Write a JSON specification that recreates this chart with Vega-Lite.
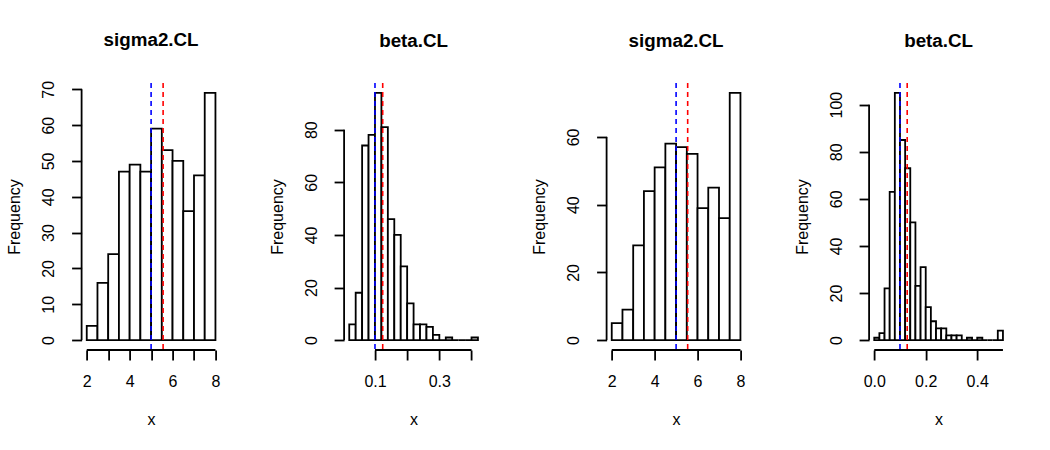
{
  "$schema": "https://vega.github.io/schema/vega-lite/v6.json",
  "background": "white",
  "padding": {"left": 6.6, "top": 30, "right": 5, "bottom": 5},
  "datasets": {
    "sig1": [
      {"lo": 2.0, "hi": 2.5, "count": 4}, {"lo": 2.5, "hi": 3.0, "count": 16},
      {"lo": 3.0, "hi": 3.5, "count": 24}, {"lo": 3.5, "hi": 4.0, "count": 47},
      {"lo": 4.0, "hi": 4.5, "count": 49}, {"lo": 4.5, "hi": 5.0, "count": 47},
      {"lo": 5.0, "hi": 5.5, "count": 59}, {"lo": 5.5, "hi": 6.0, "count": 53},
      {"lo": 6.0, "hi": 6.5, "count": 50}, {"lo": 6.5, "hi": 7.0, "count": 36},
      {"lo": 7.0, "hi": 7.5, "count": 46}, {"lo": 7.5, "hi": 8.0, "count": 69}
    ],
    "beta1": [
      {"lo": 0.02, "hi": 0.04, "count": 6}, {"lo": 0.04, "hi": 0.06, "count": 18},
      {"lo": 0.06, "hi": 0.08, "count": 74}, {"lo": 0.08, "hi": 0.10, "count": 78},
      {"lo": 0.10, "hi": 0.12, "count": 94}, {"lo": 0.12, "hi": 0.14, "count": 81},
      {"lo": 0.14, "hi": 0.16, "count": 46}, {"lo": 0.16, "hi": 0.18, "count": 40},
      {"lo": 0.18, "hi": 0.20, "count": 28}, {"lo": 0.20, "hi": 0.22, "count": 14},
      {"lo": 0.22, "hi": 0.24, "count": 6}, {"lo": 0.24, "hi": 0.26, "count": 6},
      {"lo": 0.26, "hi": 0.28, "count": 5}, {"lo": 0.28, "hi": 0.30, "count": 2},
      {"lo": 0.30, "hi": 0.32, "count": 0}, {"lo": 0.32, "hi": 0.34, "count": 1},
      {"lo": 0.34, "hi": 0.36, "count": 0}, {"lo": 0.36, "hi": 0.38, "count": 0},
      {"lo": 0.38, "hi": 0.40, "count": 0}, {"lo": 0.40, "hi": 0.42, "count": 1}
    ],
    "sig2": [
      {"lo": 2.0, "hi": 2.5, "count": 5}, {"lo": 2.5, "hi": 3.0, "count": 9},
      {"lo": 3.0, "hi": 3.5, "count": 28}, {"lo": 3.5, "hi": 4.0, "count": 44},
      {"lo": 4.0, "hi": 4.5, "count": 51}, {"lo": 4.5, "hi": 5.0, "count": 58},
      {"lo": 5.0, "hi": 5.5, "count": 57}, {"lo": 5.5, "hi": 6.0, "count": 55},
      {"lo": 6.0, "hi": 6.5, "count": 39}, {"lo": 6.5, "hi": 7.0, "count": 45},
      {"lo": 7.0, "hi": 7.5, "count": 36}, {"lo": 7.5, "hi": 8.0, "count": 73}
    ],
    "beta2": [
      {"lo": 0.00, "hi": 0.02, "count": 1}, {"lo": 0.02, "hi": 0.04, "count": 3},
      {"lo": 0.04, "hi": 0.06, "count": 22}, {"lo": 0.06, "hi": 0.08, "count": 63},
      {"lo": 0.08, "hi": 0.10, "count": 105}, {"lo": 0.10, "hi": 0.12, "count": 85},
      {"lo": 0.12, "hi": 0.14, "count": 73}, {"lo": 0.14, "hi": 0.16, "count": 50},
      {"lo": 0.16, "hi": 0.18, "count": 23}, {"lo": 0.18, "hi": 0.20, "count": 31},
      {"lo": 0.20, "hi": 0.22, "count": 14}, {"lo": 0.22, "hi": 0.24, "count": 8},
      {"lo": 0.24, "hi": 0.26, "count": 5}, {"lo": 0.26, "hi": 0.28, "count": 5},
      {"lo": 0.28, "hi": 0.30, "count": 2}, {"lo": 0.30, "hi": 0.32, "count": 2},
      {"lo": 0.32, "hi": 0.34, "count": 2}, {"lo": 0.34, "hi": 0.36, "count": 0},
      {"lo": 0.36, "hi": 0.38, "count": 1}, {"lo": 0.38, "hi": 0.40, "count": 0},
      {"lo": 0.40, "hi": 0.42, "count": 1}, {"lo": 0.42, "hi": 0.44, "count": 0},
      {"lo": 0.44, "hi": 0.46, "count": 0}, {"lo": 0.46, "hi": 0.48, "count": 0},
      {"lo": 0.48, "hi": 0.50, "count": 4}
    ],
    "ref_sig1": [{"value": 5.0, "kind": "true"}, {"value": 5.56, "kind": "mean"}],
    "ref_beta1": [{"value": 0.1, "kind": "true"}, {"value": 0.124, "kind": "mean"}],
    "ref_sig2": [{"value": 5.0, "kind": "true"}, {"value": 5.54, "kind": "mean"}],
    "ref_beta2": [{"value": 0.1, "kind": "true"}, {"value": 0.128, "kind": "mean"}],
    "one": [{}]
  },
  "spacing": 123.5,
  "bounds": "flush",
  "hconcat": [
    {
      "title": {"text": "sigma2.CL"},
      "width": 139,
      "height": 267,
      "layer": [
        {
          "data": {"name": "sig1"},
          "mark": {"type": "rect", "fill": "white", "stroke": "black", "strokeWidth": 1.8},
          "encoding": {
            "x": {"field": "lo", "type": "quantitative", "title": "x",
                  "scale": {"domain": [1.76, 8.24], "nice": false, "zero": false},
                  "axis": {"values": [2, 3, 4, 5, 6, 7, 8], "labelOverlap": false, "labelExpr": "datum.value % 2 == 0 ? datum.label : ''"}},
            "x2": {"field": "hi"},
            "y": {"field": "count", "type": "quantitative", "title": "Frequency",
                  "scale": {"domain": [-2.76, 71.76], "nice": false, "zero": false},
                  "axis": {"values": [0, 10, 20, 30, 40, 50, 60, 70], "labelOverlap": false}},
            "y2": {"datum": 0}
          }
        },
        {"data": {"name": "one"},
         "mark": {"type": "rule", "color": "black", "strokeWidth": 1.8},
         "encoding": {
           "x": {"datum": 2, "title": "x", "axis": {"values": [2, 3, 4, 5, 6, 7, 8], "labelOverlap": false, "labelExpr": "datum.value % 2 == 0 ? datum.label : ''"}},
           "x2": {"datum": 8},
           "y": {"datum": -2.76, "title": "Frequency", "axis": {"values": [0, 10, 20, 30, 40, 50, 60, 70], "labelOverlap": false}}}},
        {"data": {"name": "one"},
         "mark": {"type": "rule", "color": "black", "strokeWidth": 1.8},
         "encoding": {
           "x": {"datum": 1.76, "title": "x", "axis": {"values": [2, 3, 4, 5, 6, 7, 8], "labelOverlap": false, "labelExpr": "datum.value % 2 == 0 ? datum.label : ''"}},
           "y": {"datum": 0, "title": "Frequency", "axis": {"values": [0, 10, 20, 30, 40, 50, 60, 70], "labelOverlap": false}},
           "y2": {"datum": 70}}},
        {
          "data": {"name": "ref_sig1"},
          "mark": {"type": "rule", "strokeWidth": 1.6, "strokeDash": [5, 4]},
          "encoding": {
            "x": {"field": "value", "type": "quantitative", "title": "x", "axis": {"values": [2, 3, 4, 5, 6, 7, 8], "labelOverlap": false, "labelExpr": "datum.value % 2 == 0 ? datum.label : ''"}},
            "color": {"field": "kind", "type": "nominal", "scale": {"domain": ["true", "mean"], "range": ["#0000ff", "#ff0000"]}, "legend": null}
          }
        }
      ]
    },
    {
      "title": {"text": "beta.CL"},
      "width": 139,
      "height": 267,
      "layer": [
        {
          "data": {"name": "beta1"},
          "mark": {"type": "rect", "fill": "white", "stroke": "black", "strokeWidth": 1.8},
          "encoding": {
            "x": {"field": "lo", "type": "quantitative", "title": "x",
                  "scale": {"domain": [0.004, 0.436], "nice": false, "zero": false},
                  "axis": {"values": [0.1, 0.2, 0.3, 0.4], "labelOverlap": false, "labelExpr": "round(datum.value * 10) % 2 == 1 ? format(datum.value, '.1f') : ''"}},
            "x2": {"field": "hi"},
            "y": {"field": "count", "type": "quantitative", "title": "Frequency",
                  "scale": {"domain": [-3.76, 97.76], "nice": false, "zero": false},
                  "axis": {"values": [0, 20, 40, 60, 80], "labelOverlap": false}},
            "y2": {"datum": 0}
          }
        },
        {"data": {"name": "one"},
         "mark": {"type": "rule", "color": "black", "strokeWidth": 1.8},
         "encoding": {"x": {"datum": 0.1, "title": "x"}, "x2": {"datum": 0.4}, "y": {"datum": -3.76, "title": "Frequency"}}},
        {"data": {"name": "one"},
         "mark": {"type": "rule", "color": "black", "strokeWidth": 1.8},
         "encoding": {"x": {"datum": 0.004, "title": "x"}, "y": {"datum": 0, "title": "Frequency"}, "y2": {"datum": 80}}},
        {
          "data": {"name": "ref_beta1"},
          "mark": {"type": "rule", "strokeWidth": 1.6, "strokeDash": [5, 4]},
          "encoding": {
            "x": {"field": "value", "type": "quantitative", "title": "x"},
            "color": {"field": "kind", "type": "nominal", "scale": {"domain": ["true", "mean"], "range": ["#0000ff", "#ff0000"]}, "legend": null}
          }
        }
      ]
    },
    {
      "title": {"text": "sigma2.CL"},
      "width": 139,
      "height": 267,
      "layer": [
        {
          "data": {"name": "sig2"},
          "mark": {"type": "rect", "fill": "white", "stroke": "black", "strokeWidth": 1.8},
          "encoding": {
            "x": {"field": "lo", "type": "quantitative", "title": "x",
                  "scale": {"domain": [1.76, 8.24], "nice": false, "zero": false},
                  "axis": {"values": [2, 3, 4, 5, 6, 7, 8], "labelOverlap": false, "labelExpr": "datum.value % 2 == 0 ? datum.label : ''"}},
            "x2": {"field": "hi"},
            "y": {"field": "count", "type": "quantitative", "title": "Frequency",
                  "scale": {"domain": [-2.92, 75.92], "nice": false, "zero": false},
                  "axis": {"values": [0, 20, 40, 60], "labelOverlap": false}},
            "y2": {"datum": 0}
          }
        },
        {"data": {"name": "one"},
         "mark": {"type": "rule", "color": "black", "strokeWidth": 1.8},
         "encoding": {"x": {"datum": 2, "title": "x"}, "x2": {"datum": 8}, "y": {"datum": -2.92, "title": "Frequency"}}},
        {"data": {"name": "one"},
         "mark": {"type": "rule", "color": "black", "strokeWidth": 1.8},
         "encoding": {"x": {"datum": 1.76, "title": "x"}, "y": {"datum": 0, "title": "Frequency"}, "y2": {"datum": 60}}},
        {
          "data": {"name": "ref_sig2"},
          "mark": {"type": "rule", "strokeWidth": 1.6, "strokeDash": [5, 4]},
          "encoding": {
            "x": {"field": "value", "type": "quantitative", "title": "x"},
            "color": {"field": "kind", "type": "nominal", "scale": {"domain": ["true", "mean"], "range": ["#0000ff", "#ff0000"]}, "legend": null}
          }
        }
      ]
    },
    {
      "title": {"text": "beta.CL"},
      "width": 139,
      "height": 267,
      "layer": [
        {
          "data": {"name": "beta2"},
          "mark": {"type": "rect", "fill": "white", "stroke": "black", "strokeWidth": 1.8},
          "encoding": {
            "x": {"field": "lo", "type": "quantitative", "title": "x",
                  "scale": {"domain": [-0.02, 0.52], "nice": false, "zero": false},
                  "axis": {"values": [0, 0.1, 0.2, 0.3, 0.4, 0.5], "labelOverlap": false, "labelExpr": "round(datum.value * 10) % 2 == 0 ? format(datum.value, '.1f') : ''"}},
            "x2": {"field": "hi"},
            "y": {"field": "count", "type": "quantitative", "title": "Frequency",
                  "scale": {"domain": [-4.2, 109.2], "nice": false, "zero": false},
                  "axis": {"values": [0, 20, 40, 60, 80, 100], "labelOverlap": false}},
            "y2": {"datum": 0}
          }
        },
        {"data": {"name": "one"},
         "mark": {"type": "rule", "color": "black", "strokeWidth": 1.8},
         "encoding": {"x": {"datum": 0, "title": "x"}, "x2": {"datum": 0.5}, "y": {"datum": -4.2, "title": "Frequency"}}},
        {"data": {"name": "one"},
         "mark": {"type": "rule", "color": "black", "strokeWidth": 1.8},
         "encoding": {"x": {"datum": -0.02, "title": "x"}, "y": {"datum": 0, "title": "Frequency"}, "y2": {"datum": 100}}},
        {
          "data": {"name": "ref_beta2"},
          "mark": {"type": "rule", "strokeWidth": 1.6, "strokeDash": [5, 4]},
          "encoding": {
            "x": {"field": "value", "type": "quantitative", "title": "x"},
            "color": {"field": "kind", "type": "nominal", "scale": {"domain": ["true", "mean"], "range": ["#0000ff", "#ff0000"]}, "legend": null}
          }
        }
      ]
    }
  ],
  "config": {
    "font": "Liberation Sans",
    "view": {"stroke": null},
    "title": {"font": "Liberation Sans", "fontSize": 18.8, "fontWeight": "bold", "color": "black", "anchor": "middle", "frame": "group", "baseline": "alphabetic", "offset": 31},
    "axis": {
      "domain": false, "grid": false, "ticks": true,
      "tickColor": "black", "tickWidth": 1.8, "tickSize": 10,
      "labelColor": "black", "titleColor": "black",
      "labelFont": "Liberation Sans", "titleFont": "Liberation Sans",
      "labelFontSize": 16, "titleFontSize": 16, "titleFontWeight": "normal",
      "labelOverlap": false, "labelFlush": false
    },
    "axisX": {"labelPadding": 14, "titlePadding": 22},
    "axisY": {"labelAngle": -90, "labelAlign": "center", "labelBaseline": "bottom", "labelPadding": 15, "titlePadding": 18}
  }
}
